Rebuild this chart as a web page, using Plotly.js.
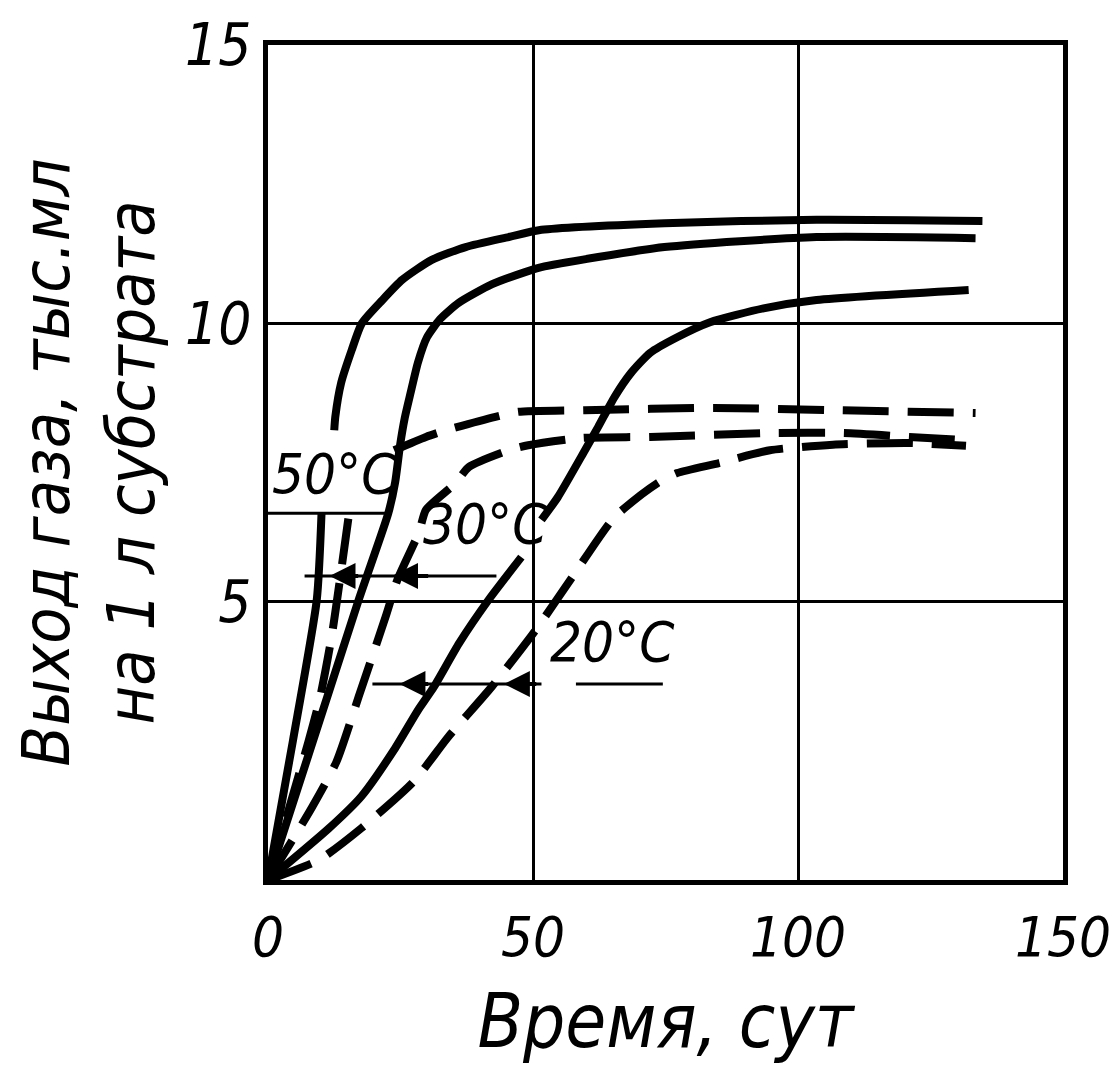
<!DOCTYPE html>
<html>
<head>
<meta charset="utf-8">
<script src="https://cdn.plot.ly/plotly-3.0.1.min.js"></script>
<style>html,body{margin:0;padding:0;background:#fff;}</style>
</head>
<body>
<div id="chart" style="width:1115px;height:1071px;"></div>
<script>
// ---- Data (x: Время, сут; y: тыс. мл на 1 л субстрата) ----
// null = break in the drawn curve where a label sits
const solid1X = [0, 4.7, 9.2, 10.1, null, 12.5, 12.7, 13.8, 15.8, 17.7, 21.6, 25.3, 30.9, 37.3, 45.4, 51.6, 74.8, 103.5, 134.8];
const solid1Y = [0, 2.5, 5.03, 6.59, null, 8.08, 8.32, 8.93, 9.52, 10.0, 10.42, 10.78, 11.14, 11.37, 11.55, 11.68, 11.80, 11.86, 11.84];

const solid2X = [0, 17.1, 22.7, 24.0, 24.9, 25.8, 26.9, 28.3, 30.0, 32.5, 36.0, 42.2, 48.5, 51.6, 74.8, 103.5, 133.5];
const solid2Y = [0, 5.03, 6.59, 7.15, 7.8, 8.3, 8.75, 9.3, 9.75, 10.08, 10.37, 10.70, 10.92, 11.01, 11.37, 11.55, 11.53];

const solid3X = [0, 11.4, 17.6, 23.8, 28.3, 31.3, 36.1, 41.6, 47.8, null, 51.6, 54.7, 59.8, 62.3, 65.4, 68.5, 72.1, 77.2, 83.4, 93.5, 103.5, 132.2];
const solid3Y = [0, 0.92, 1.50, 2.34, 3.05, 3.47, 4.26, 5.03, 5.80, null, 6.47, 6.88, 7.72, 8.14, 8.68, 9.11, 9.47, 9.75, 10.02, 10.27, 10.42, 10.60];

const dashed1X = [0, 7.7, 9.8, 12.0, 15.2, null, 23.8, 29.8, 33.6, 42.9, 47.2, 59.8, 84.2, 106.6, 133.5];
const dashed1Y = [0, 2.51, 3.27, 4.37, 6.52, null, 7.72, 7.96, 8.08, 8.32, 8.41, 8.44, 8.48, 8.44, 8.39];

const dashed2X = [0, 8.2, 12.9, 17.1, 22.3, 24.4, 28.5, 29.8, 35.4, 37.9, 45.4, 49.1, 59.0, 72.1, 95.5, 108.6, 121.0, 131.7];
const dashed2Y = [0, 1.29, 2.12, 3.29, 4.76, 5.39, 6.25, 6.65, 7.13, 7.42, 7.72, 7.81, 7.94, 7.96, 8.03, 8.03, 7.96, 7.90];

const dashed3X = [0, 9.6, 17.6, 27.4, 34.0, 42.2, 50.5, 57.9, 65.4, 73.5, 77.2, 85.1, 94.7, 106.6, 121.0, 131.7];
const dashed3Y = [0, 0.36, 0.93, 1.76, 2.57, 3.47, 4.49, 5.51, 6.52, 7.13, 7.31, 7.49, 7.72, 7.82, 7.85, 7.80];

// Axis ticks and titles
const xTicks = [0, 50, 100, 150];
const yTicks = [5, 10, 15];
const xTitle = 'Время, сут';
const yTitle = 'Выход газа, тыс.мл<br>на 1 л субстрата';

// Temperature labels
const labelText = ['50°C', '30°C', '20°C'];
const labelX = [12.5, 41.1, 65.0];
const labelY = [7.31, 6.41, 4.28];

// Leader lines under the labels: [x0, x1, y]
const leaderLines = [[0, 22.9, 6.59], [6.9, 43.1, 5.46], [19.7, 51.6, 3.52], [58.1, 74.5, 3.52]];
// Arrow heads on leader lines: [tipX, tailX, y]
const arrowHeads = [[11.6, 17.3, 5.46], [23.4, 30.5, 5.46], [24.8, 30.5, 3.52], [44.5, 50.9, 3.52]];

const FONT = '"Liberation Sans Narrow", "DejaVu Sans Condensed", "Liberation Sans", sans-serif';

function solid(x, y, name) {
  return {x: x, y: y, name: name, type: 'scatter', mode: 'lines', connectgaps: false,
    line: {color: '#000', width: 8, shape: 'spline', smoothing: 0.6}, hoverinfo: 'x+y'};
}
function dashed(x, y, name) {
  return {x: x, y: y, name: name, type: 'scatter', mode: 'lines', connectgaps: false,
    line: {color: '#000', width: 8, dash: '46px,19px', shape: 'spline', smoothing: 0.6}, hoverinfo: 'x+y'};
}

const traces = [
  solid(solid1X, solid1Y, 'Сплошная 1'),
  solid(solid2X, solid2Y, 'Сплошная 2'),
  solid(solid3X, solid3Y, 'Сплошная 3'),
  dashed(dashed1X, dashed1Y, 'Штриховая 1'),
  dashed(dashed2X, dashed2Y, 'Штриховая 2'),
  dashed(dashed3X, dashed3Y, 'Штриховая 3')
];

const shapes = leaderLines.map(l => ({type: 'line', xref: 'x', yref: 'y', x0: l[0], x1: l[1], y0: l[2], y1: l[2],
  line: {color: '#000', width: 3}}));

const annotations = [];
labelText.forEach((t, i) => annotations.push({text: t, x: labelX[i], y: labelY[i], xref: 'x', yref: 'y',
  showarrow: false, font: {family: FONT, size: 56, color: '#000', style: 'italic'}}));
arrowHeads.forEach(a => annotations.push({text: '', x: a[0], y: a[2], ax: a[1], ay: a[2], xref: 'x', yref: 'y',
  axref: 'x', ayref: 'y', showarrow: true, arrowhead: 2, arrowsize: 1.3, arrowwidth: 4, arrowcolor: '#000', standoff: 0}));

const layout = {
  width: 1115, height: 1071,
  margin: {l: 268, r: 52, t: 45, b: 191},
  paper_bgcolor: '#fff', plot_bgcolor: '#fff',
  showlegend: false,
  font: {family: FONT, color: '#000'},
  xaxis: {
    range: [0, 150], tickvals: xTicks, ticktext: xTicks.map(String),
    showgrid: true, gridcolor: '#000', gridwidth: 3, zeroline: false,
    showline: true, mirror: true, linecolor: '#000', linewidth: 5, ticks: '',
    tickfont: {family: FONT, size: 56, style: 'italic'},
    ticklabeloverflow: 'allow',
    ticklabelstandoff: 4,
    title: {text: xTitle, font: {family: FONT, size: 74, style: 'italic'}, standoff: 28},
    automargin: false
  },
  yaxis: {
    range: [0, 15], tickvals: yTicks, ticktext: yTicks.map(String),
    showgrid: true, gridcolor: '#000', gridwidth: 3, zeroline: false,
    showline: true, mirror: true, linecolor: '#000', linewidth: 5, ticks: '',
    tickfont: {family: FONT, size: 58, style: 'italic'},
    ticklabelstandoff: 0,
    title: {text: yTitle, font: {family: FONT, size: 66, style: 'italic'}, standoff: 10},
    automargin: false
  },
  shapes: shapes,
  annotations: annotations
};

Plotly.newPlot('chart', traces, layout, {staticPlot: true, displayModeBar: false});
</script>
</body>
</html>
